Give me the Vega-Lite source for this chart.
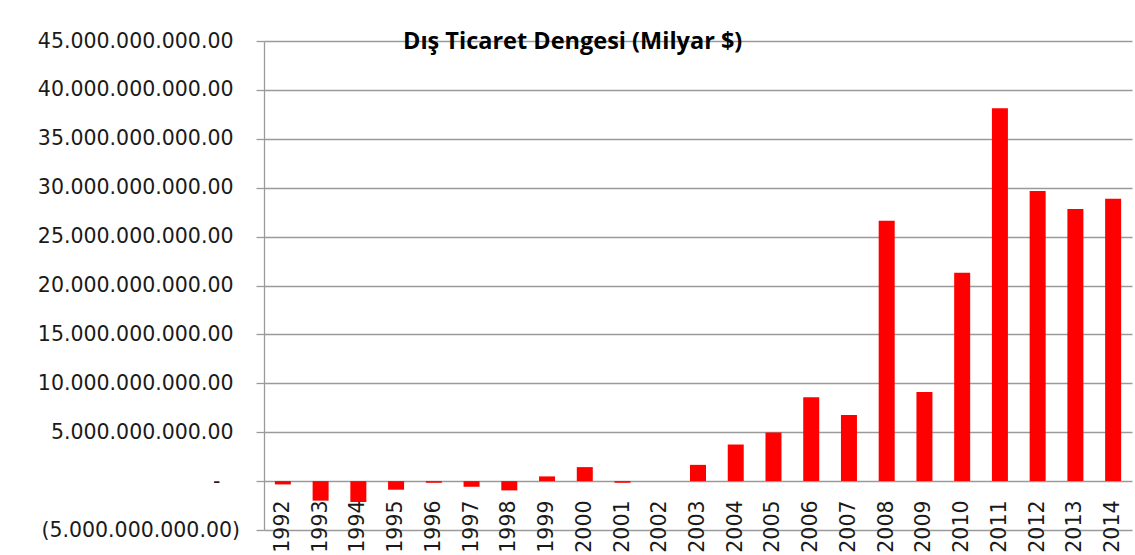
{
  "$schema": "https://vega.github.io/schema/vega-lite/v6.json",
  "width": 868,
  "height": 489,
  "autosize": {"type": "none"},
  "padding": {"left": 264, "top": 41, "right": 3, "bottom": 25},
  "background": "white",
  "title": {
    "text": "Dış Ticaret Dengesi (Milyar $)",
    "anchor": "start",
    "frame": "group",
    "orient": "top",
    "dx": 139,
    "dy": 34,
    "offset": 0,
    "baseline": "middle",
    "font": "Open Sans",
    "fontWeight": "bold",
    "fontSize": 23.5,
    "color": "#000000"
  },
  "data": {
    "values": [
      {"year": "1992", "balance": -340000000},
      {"year": "1993", "balance": -2000000000},
      {"year": "1994", "balance": -2140000000},
      {"year": "1995", "balance": -880000000},
      {"year": "1996", "balance": -170000000},
      {"year": "1997", "balance": -580000000},
      {"year": "1998", "balance": -950000000},
      {"year": "1999", "balance": 480000000},
      {"year": "2000", "balance": 1430000000},
      {"year": "2001", "balance": -170000000},
      {"year": "2002", "balance": 0},
      {"year": "2003", "balance": 1660000000},
      {"year": "2004", "balance": 3740000000},
      {"year": "2005", "balance": 4970000000},
      {"year": "2006", "balance": 8570000000},
      {"year": "2007", "balance": 6770000000},
      {"year": "2008", "balance": 26630000000},
      {"year": "2009", "balance": 9110000000},
      {"year": "2010", "balance": 21300000000},
      {"year": "2011", "balance": 38130000000},
      {"year": "2012", "balance": 29660000000},
      {"year": "2013", "balance": 27830000000},
      {"year": "2014", "balance": 28880000000}
    ]
  },
  "mark": {"type": "bar", "color": "#ff0000"},
  "encoding": {
    "x": {
      "field": "year",
      "type": "nominal",
      "sort": null,
      "scale": {"paddingInner": 0.576, "paddingOuter": 0.288},
      "axis": {
        "title": null,
        "offset": -49,
        "domain": false,
        "ticks": false,
        "grid": false,
        "labelAngle": 270,
        "labelPadding": 19,
        "labelFont": "DejaVu Sans",
        "labelFontSize": 20.5,
        "labelColor": "#1a1a1a",
        "labelLimit": 0
      }
    },
    "y": {
      "field": "balance",
      "type": "quantitative",
      "scale": {"domain": [-5000000000, 45000000000], "nice": false, "zero": false},
      "axis": {
        "title": null,
        "values": [-5000000000, 0, 5000000000, 10000000000, 15000000000, 20000000000, 25000000000, 30000000000, 35000000000, 40000000000, 45000000000],
        "format": ",.2f",
        "labelExpr": "datum.value == 0 ? '-\u00a0\u00a0\u00a0\u200b' : (datum.value < 0 ? '(' + format(-datum.value, ',.2f') + ')' : datum.label + '\u00a0\u200b')",
        "grid": true,
        "gridColor": "#9a9a9a",
        "gridWidth": 1.3,
        "domain": true,
        "domainColor": "#9a9a9a",
        "domainWidth": 1.3,
        "ticks": true,
        "tickSize": 8,
        "tickColor": "#9a9a9a",
        "tickWidth": 1.3,
        "labelPadding": 16.5,
        "labelFont": "DejaVu Sans",
        "labelFontSize": 20.5,
        "labelColor": "#1a1a1a",
        "labelLimit": 0
      }
    }
  },
  "config": {
    "view": {"stroke": null},
    "locale": {
      "number": {"decimal": ".", "thousands": ".", "grouping": [3], "currency": ["$", ""], "minus": "-"}
    }
  }
}
